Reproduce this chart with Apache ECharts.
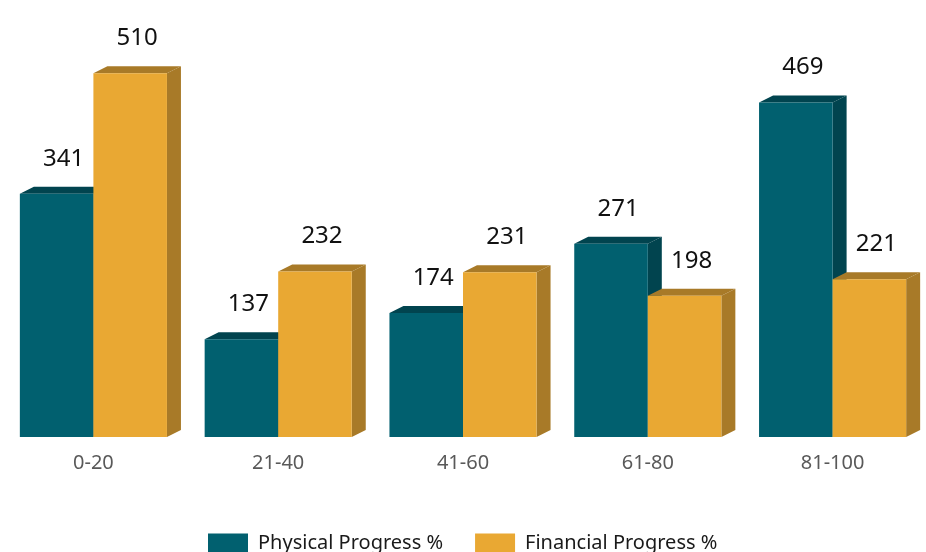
<!DOCTYPE html>
<html>
<head>
<meta charset="utf-8">
<script src="https://cdn.jsdelivr.net/npm/echarts@6/dist/echarts.min.js"></script>
<style>html,body{margin:0;padding:0;background:#fff}#c{width:926px;height:552px}</style>
</head>
<body>
<div id="c"></div>
<script>
var categories = ['0-20', '21-40', '41-60', '61-80', '81-100'];
var physical = [341, 137, 174, 271, 469];
var financial = [510, 232, 231, 198, 221];
var seriesNames = ['Physical Progress %', 'Financial Progress %'];

var frontColors = ['#01606F', '#E9A833'];
var darkColors = ['#01444F', '#A87A28'];
var DX = 14, DY = 7;

function makeRender(idx) {
  return function (params, api) {
    var catIdx = api.value(0);
    var val = api.value(1);
    var base = api.coord([catIdx, 0]);
    var top = api.coord([catIdx, val]);
    var band = api.size([1, 0])[0];
    var bw = band * 0.398;
    var x0 = idx === 0 ? base[0] - bw : base[0];
    var x1 = x0 + bw;
    var yb = base[1], yt = top[1];
    return {
      type: 'group',
      children: [
        { type: 'polygon', shape: { points: [[x1, yt], [x1 + DX, yt - DY], [x1 + DX, yb - DY], [x1, yb]] }, style: { fill: darkColors[idx] } },
        { type: 'polygon', shape: { points: [[x0, yt], [x0 + DX, yt - DY], [x1 + DX, yt - DY], [x1, yt]] }, style: { fill: darkColors[idx] } },
        { type: 'rect', shape: { x: x0, y: yt, width: bw, height: yb - yt }, style: { fill: frontColors[idx] } },
        { type: 'text', style: { text: String(val), x: x0 + bw / 2 + DX / 2, y: yt - DY - 28, textAlign: 'center', textVerticalAlign: 'middle', fontSize: 24, fontFamily: 'Noto Sans', fill: '#111' } }
      ]
    };
  };
}

function toData(arr) { return arr.map(function (v, i) { return [i, v]; }); }

var chart = echarts.init(document.getElementById('c'), null, { renderer: 'canvas' });
chart.setOption({
  animation: false,
  grid: { left: 1, right: 1, top: 9, bottom: 115 },
  legend: {
    data: seriesNames,
    left: 208, top: 533, padding: 0,
    itemWidth: 40, itemHeight: 19, itemGap: 32,
    icon: 'rect',
    textStyle: { fontSize: 20, fontFamily: 'Noto Sans', color: '#1a1a1a', padding: [0, 0, 0, 5] }
  },
  xAxis: {
    type: 'category', data: categories,
    axisLine: { show: false }, axisTick: { show: false },
    axisLabel: { fontSize: 20, color: '#595959', fontFamily: 'Noto Sans', margin: 16 }
  },
  yAxis: { type: 'value', min: 0, max: 600, show: false, splitLine: { show: false } },
  series: [
    { name: seriesNames[0], type: 'custom', renderItem: makeRender(0), itemStyle: { color: frontColors[0] }, data: toData(physical), encode: { x: 0, y: 1 }, z: 2 },
    { name: seriesNames[1], type: 'custom', renderItem: makeRender(1), itemStyle: { color: frontColors[1] }, data: toData(financial), encode: { x: 0, y: 1 }, z: 3 }
  ]
});
</script>
</body>
</html>
